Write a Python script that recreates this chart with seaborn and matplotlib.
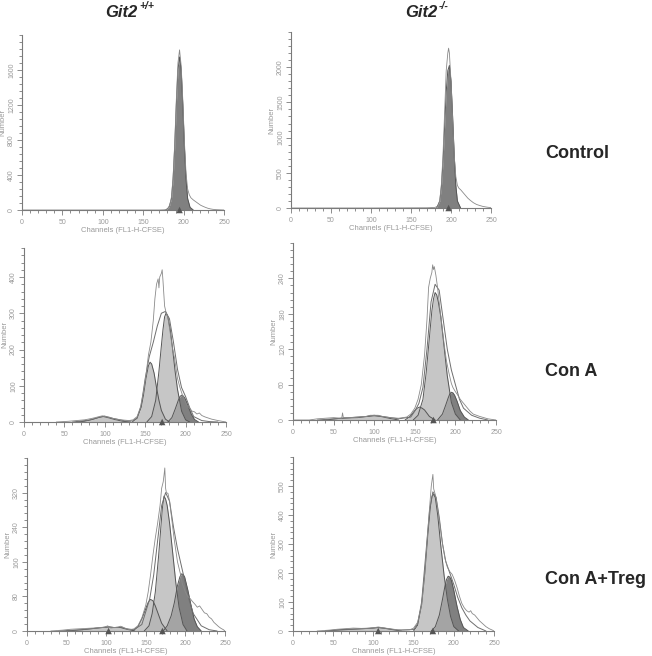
import matplotlib
matplotlib.use('Agg')
import matplotlib.pyplot as plt
import seaborn as sns
from matplotlib.ticker import MultipleLocator

sns.set_style('white')
plt.rcParams['font.family'] = ['Liberation Sans', 'DejaVu Sans']

# ---- 数据 ----
col_titles = ['Git2', 'Git2']
col_sups = ['+/+', '-/-']
row_titles = ['Control', 'Con A', 'Con A+Treg']

# Control, Git2+/+
a_raw_x = [0, 170, 176, 180, 183, 185, 187, 189, 191, 193, 195, 197, 199, 201, 203, 205, 207, 209, 212, 215,
           218, 221, 224, 227, 230, 233, 236, 240, 245, 250]
a_raw_y = [0, 0, 2, 10, 60, 150, 380, 760, 1260, 1680, 1830, 1650, 1260, 780, 420, 240, 175, 140, 115, 95,
           75, 55, 42, 30, 20, 13, 8, 4, 2, 0]
a_dark_x = [178, 182, 185, 187, 189, 191, 193, 195, 197, 199, 201, 203, 205, 208, 212]
a_dark_y = [0, 30, 130, 350, 720, 1200, 1600, 1750, 1600, 1200, 720, 350, 130, 30, 0]
a_marks = [195]

# Control, Git2-/-
b_raw_x = [0, 100, 170, 180, 184, 186, 188, 190, 192, 194, 196, 197, 198, 200, 202, 204, 206, 208, 210, 212,
           215, 218, 221, 224, 228, 232, 236, 240, 245, 250]
b_raw_y = [0, 0, 3, 8, 30, 110, 340, 750, 1350, 1950, 2200, 2270, 2200, 1800, 1250, 750, 450, 320, 280, 260,
           220, 180, 140, 110, 75, 50, 35, 22, 12, 5]
b_dark_x = [182, 186, 188, 190, 192, 194, 196, 198, 200, 202, 204, 206, 208, 212]
b_dark_y = [0, 100, 300, 650, 1150, 1650, 1950, 2025, 1800, 1300, 750, 320, 100, 0]
b_marks = [197]

# Con A, Git2+/+
c_raw_x = [40, 55, 65, 75, 82, 88, 93, 97, 100, 103, 106, 110, 115, 120, 125, 130, 135, 140, 144, 148, 151,
           154, 157, 160, 162, 164, 166, 167, 168, 170, 171, 172, 174, 176, 178, 180, 182, 184, 186, 188, 190,
           193, 196, 199, 202, 205, 208, 211, 214, 217, 220, 224, 228, 232, 236, 240, 245, 250]
c_raw_y = [0, 2, 4, 6, 9, 12, 15, 17, 16, 14, 13, 10, 8, 6, 5, 4, 6, 15, 40, 85, 130,
           185, 220, 280, 340, 380, 395, 370, 400, 410, 420, 390, 320, 300, 290, 260, 230, 200, 180, 150, 120,
           95, 75, 60, 45, 38, 30, 28, 22, 25, 18, 14, 11, 8, 6, 4, 2, 0]
c_fit_x = [60, 80, 95, 100, 110, 125, 135, 140, 145, 150, 155, 160, 165, 170, 175, 180, 185, 190, 195, 200,
           205, 210, 220, 230, 240]
c_fit_y = [0, 5, 14, 16, 10, 3, 3, 10, 45, 120, 180, 220, 265, 300, 305, 285, 220, 145, 95, 70,
           40, 15, 4, 1, 0]
c_p1_x = [65, 75, 85, 92, 98, 104, 112, 122, 132]
c_p1_y = [0, 2, 7, 12, 15, 12, 7, 2, 0]
c_p2_x = [134, 140, 145, 148, 151, 154, 156, 158, 161, 164, 167, 170, 175, 180]
c_p2_y = [0, 12, 40, 75, 120, 155, 165, 160, 135, 95, 60, 32, 8, 0]
c_p3_x = [152, 158, 163, 167, 170, 172, 174, 176, 178, 181, 184, 187, 190, 195, 200, 205]
c_p3_y = [0, 15, 60, 140, 210, 255, 290, 301, 290, 255, 200, 140, 90, 30, 6, 0]
c_dark_x = [178, 183, 187, 191, 193, 195, 197, 199, 203, 207, 211, 216]
c_dark_y = [0, 12, 35, 60, 70, 74, 72, 66, 45, 22, 7, 0]
c_marks = [171]

# Con A, Git2-/-
d_raw_x = [0, 20, 30, 40, 50, 60, 61, 62, 70, 80, 90, 95, 100, 105, 110, 120, 130, 140, 145, 150, 154, 158,
           162, 165, 167, 169, 171, 172, 173, 174, 176, 178, 180, 183, 186, 189, 192, 195, 197, 200, 203, 206,
           209, 212, 215, 218, 222, 226, 230, 235, 240, 245, 250]
d_raw_y = [0, 0, 2, 3, 4, 3, 12, 4, 4, 5, 6, 8, 8, 8, 6, 4, 3, 5, 10, 20, 35, 60,
           110, 170, 225, 240, 250, 263, 255, 260, 245, 225, 200, 165, 130, 100, 80, 62, 55, 48, 42, 35,
           30, 25, 20, 15, 10, 8, 6, 4, 2, 1, 0]
d_fit_x = [30, 60, 90, 100, 110, 130, 145, 150, 155, 160, 165, 170, 175, 180, 185, 190, 195, 200, 205, 210,
           220, 230, 240]
d_fit_y = [0, 3, 6, 8, 6, 2, 5, 15, 28, 55, 120, 200, 230, 220, 170, 120, 85, 60, 35, 20, 8, 3, 0]
d_p1_x = [40, 60, 80, 92, 100, 108, 118, 130]
d_p1_y = [0, 3, 4, 6, 7, 6, 3, 0]
d_p2_x = [138, 144, 150, 153, 156, 159, 162, 168, 175]
d_p2_y = [0, 6, 16, 20, 22, 20, 17, 6, 0]
d_p3_x = [148, 154, 160, 164, 168, 171, 173, 175, 177, 179, 182, 186, 190, 195, 200, 206]
d_p3_y = [0, 8, 35, 80, 140, 185, 205, 216, 212, 200, 175, 125, 75, 30, 10, 0]
d_dark_x = [178, 184, 188, 191, 193, 195, 197, 199, 202, 206, 211, 216]
d_dark_y = [0, 10, 25, 37, 44, 47, 46, 42, 32, 16, 5, 0]
d_marks = [173]

# Con A+Treg, Git2+/+
e_raw_x = [30, 45, 55, 65, 75, 85, 92, 98, 102, 104, 106, 110, 115, 118, 120, 122, 126, 130, 135, 140, 145,
           150, 153, 156, 159, 162, 165, 168, 170, 172, 173, 174, 175, 176, 178, 180, 182, 184, 186, 188, 190,
           192, 194, 196, 198, 200, 203, 206, 209, 212, 215, 218, 221, 224, 227, 230, 233, 236, 239, 242, 245,
           248, 250]
e_raw_y = [0, 2, 4, 5, 6, 7, 8, 9, 12, 8, 7, 8, 9, 11, 10, 8, 5, 3, 5, 12, 30,
           60, 90, 130, 175, 215, 250, 290, 330, 345, 360, 377, 330, 320, 318, 300, 270, 240, 210, 185, 160,
           145, 130, 110, 100, 90, 80, 75, 68, 62, 55, 58, 50, 42, 40, 32, 28, 20, 15, 10, 6,
           3, 0]
e_fit_x = [40, 70, 95, 103, 110, 118, 126, 135, 145, 150, 155, 160, 165, 170, 175, 180, 185, 190, 195, 200,
           205, 210, 220, 230, 240]
e_fit_y = [0, 3, 8, 10, 8, 9, 5, 3, 15, 45, 75, 130, 210, 290, 320, 300, 240, 190, 150, 110,
           70, 40, 12, 3, 0]
e_p1_x = [50, 70, 85, 95, 103, 110, 118, 126, 136]
e_p1_y = [0, 3, 6, 8, 9, 8, 8, 4, 0]
e_p2_x = [134, 140, 145, 150, 153, 156, 159, 162, 166, 170, 177]
e_p2_y = [0, 10, 28, 52, 66, 73, 70, 58, 38, 18, 0]
e_p3_x = [148, 154, 158, 162, 166, 169, 171, 173, 175, 177, 180, 184, 188, 192, 197, 202]
e_p3_y = [0, 12, 40, 90, 170, 240, 285, 312, 305, 290, 250, 180, 110, 55, 15, 0]
e_dark_x = [172, 177, 182, 186, 190, 193, 195, 197, 199, 203, 207, 211, 215, 220]
e_dark_y = [0, 12, 35, 65, 105, 125, 132, 131, 125, 95, 60, 28, 10, 0]
e_marks = [103, 171]

# Con A+Treg, Git2-/-
f_raw_x = [30, 45, 55, 65, 75, 85, 95, 102, 106, 110, 115, 120, 128, 135, 145, 150, 155, 160, 164, 167, 170,
           172, 173, 174, 175, 176, 178, 180, 183, 186, 189, 192, 195, 198, 201, 204, 207, 210, 213, 216, 219,
           221, 223, 226, 229, 232, 236, 240, 244, 248, 250]
f_raw_y = [0, 3, 6, 8, 10, 9, 10, 12, 14, 12, 10, 8, 5, 3, 4, 10, 30, 90, 200, 320, 430,
           500, 520, 540, 490, 480, 460, 420, 360, 300, 250, 220, 205, 195, 175, 150, 120, 95, 80, 70, 65,
           70, 60, 55, 45, 35, 25, 15, 8, 3, 0]
f_fit_x = [40, 80, 100, 106, 115, 130, 150, 155, 160, 165, 170, 174, 178, 182, 186, 190, 195, 200, 205, 210,
           215, 220, 230, 240]
f_fit_y = [0, 7, 10, 12, 9, 3, 5, 25, 100, 260, 420, 480, 460, 390, 300, 240, 200, 160, 115, 80,
           55, 35, 12, 0]
f_p1_x = [40, 60, 80, 95, 106, 115, 125, 135]
f_p1_y = [0, 5, 7, 9, 12, 9, 4, 0]
f_p3_x = [150, 155, 160, 164, 168, 171, 173, 175, 177, 180, 184, 188, 192, 196, 200, 206]
f_p3_y = [0, 20, 90, 200, 340, 430, 465, 471, 460, 400, 290, 190, 110, 50, 15, 0]
f_dark_x = [172, 177, 182, 186, 189, 191, 193, 195, 197, 200, 204, 208, 212, 218]
f_dark_y = [0, 15, 55, 110, 155, 178, 189, 186, 175, 140, 85, 40, 12, 0]
f_marks = [106, 174]

ymaxes = [2000, 2500, 480, 300, 400, 600]
ysteps = [400, 500, 100, 60, 80, 100]

panels = [
    dict(raw=(a_raw_x, a_raw_y), fit=None, light=[], dark=(a_dark_x, a_dark_y), marks=a_marks),
    dict(raw=(b_raw_x, b_raw_y), fit=None, light=[], dark=(b_dark_x, b_dark_y), marks=b_marks),
    dict(raw=(c_raw_x, c_raw_y), fit=(c_fit_x, c_fit_y),
         light=[(c_p1_x, c_p1_y), (c_p2_x, c_p2_y), (c_p3_x, c_p3_y)], dark=(c_dark_x, c_dark_y), marks=c_marks),
    dict(raw=(d_raw_x, d_raw_y), fit=(d_fit_x, d_fit_y),
         light=[(d_p1_x, d_p1_y), (d_p2_x, d_p2_y), (d_p3_x, d_p3_y)], dark=(d_dark_x, d_dark_y), marks=d_marks),
    dict(raw=(e_raw_x, e_raw_y), fit=(e_fit_x, e_fit_y),
         light=[(e_p1_x, e_p1_y), (e_p2_x, e_p2_y), (e_p3_x, e_p3_y)], dark=(e_dark_x, e_dark_y), marks=e_marks),
    dict(raw=(f_raw_x, f_raw_y), fit=(f_fit_x, f_fit_y),
         light=[(f_p1_x, f_p1_y), (f_p3_x, f_p3_y)], dark=(f_dark_x, f_dark_y), marks=f_marks),
]

# 各子图在画布中的位置（像素：左, 上, 右, 下）
W, H = 652, 656
boxes = [(22, 35, 224, 210), (291, 32, 491, 208),
         (24, 248, 226, 422), (293, 243, 496, 420),
         (27, 458, 225, 631), (293, 457, 494, 631)]

fig = plt.figure(figsize=(6.52, 6.56), dpi=100)
grey = '#9a9a9a'

for i, p in enumerate(panels):
    l, t, r, b = boxes[i]
    ax = fig.add_axes([l / W, 1 - b / H, (r - l) / W, (b - t) / H])

    dx, dy = p['dark']
    ax.fill_between(dx, dy, color='#808080', lw=0, zorder=1)
    for lx, ly in p['light']:
        ax.fill_between(lx, ly, color='#b2b2b2', alpha=0.74, lw=0, zorder=2)
    for lx, ly in p['light']:
        sns.lineplot(x=lx, y=ly, ax=ax, color='#555555', lw=0.7, estimator=None, zorder=3)
    sns.lineplot(x=dx, y=dy, ax=ax, color='#555555', lw=0.7, estimator=None, zorder=3)
    if p['fit'] is not None:
        sns.lineplot(x=p['fit'][0], y=p['fit'][1], ax=ax, color='#6e6e6e', lw=0.7, estimator=None, zorder=4)
    sns.lineplot(x=p['raw'][0], y=p['raw'][1], ax=ax, color='#8a8a8a', lw=0.6, estimator=None, zorder=5)
    sns.scatterplot(x=p['marks'], y=[0] * len(p['marks']), ax=ax, marker='^', s=22,
                    color='#555555', edgecolor='none', zorder=6, clip_on=False)

    ax.set_xlim(0, 250)
    ax.set_ylim(0, ymaxes[i])
    ax.xaxis.set_major_locator(MultipleLocator(50))
    ax.xaxis.set_minor_locator(MultipleLocator(10))
    ax.yaxis.set_major_locator(MultipleLocator(ysteps[i]))
    ax.yaxis.set_minor_locator(MultipleLocator(ysteps[i] / 5))
    yt = [v for v in range(0, ymaxes[i], ysteps[i])]
    ax.set_yticks(yt)
    ax.set_yticklabels([str(v) for v in yt], rotation=90, va='center')
    for s in ['top', 'right']:
        ax.spines[s].set_visible(False)
    for s in ['left', 'bottom']:
        ax.spines[s].set_color('#7a7a7a')
        ax.spines[s].set_linewidth(0.8)
    ax.tick_params(which='both', direction='out', colors='#7a7a7a', width=0.6,
                   labelsize=5, labelcolor=grey, pad=1.5)
    ax.tick_params(axis='x', which='both', pad=3)
    ax.tick_params(which='major', length=3.5)
    ax.tick_params(which='minor', length=2.5)
    ax.tick_params(axis='x', which='both', bottom=True)
    ax.tick_params(axis='y', which='both', left=True)
    ax.set_xlabel('Channels (FL1-H-CFSE)', fontsize=5.5, color=grey, labelpad=0.5)
    ax.set_ylabel('Number', fontsize=5.5, color=grey, labelpad=1)
    ax.set_facecolor('none')

# 列标题
fig.text(105 / W, 1 - 17 / H, col_titles[0], fontsize=12, fontweight='bold', style='italic', va='baseline')
fig.text(139 / W, 1 - 9 / H, col_sups[0], fontsize=7.5, fontweight='bold', style='italic', va='baseline')
fig.text(405 / W, 1 - 17 / H, col_titles[1], fontsize=12, fontweight='bold', style='italic', va='baseline')
fig.text(439 / W, 1 - 9 / H, col_sups[1], fontsize=7.5, fontweight='bold', style='italic', va='baseline')

# 行标题
for name, yc in zip(row_titles, [153, 372, 580]):
    fig.text(545 / W, 1 - yc / H, name, fontsize=13, fontweight='bold', va='center', ha='left')

fig.savefig('out.png', dpi=100)
